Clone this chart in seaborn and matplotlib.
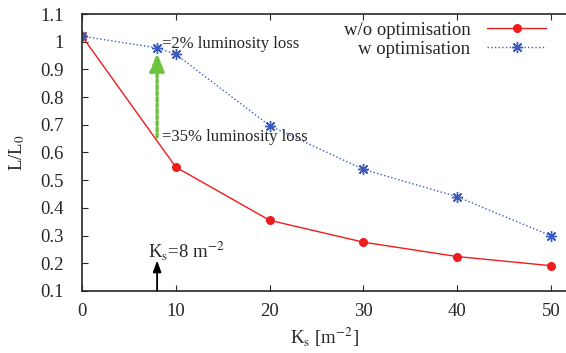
import pandas as pd
import matplotlib
matplotlib.use("Agg")
import matplotlib.pyplot as plt
import seaborn as sns

# data
ks_wo = [0, 10, 20, 30, 40, 50]
lumi_wo = [1.02, 0.547, 0.355, 0.276, 0.224, 0.191]
ks_w = [0, 8, 10, 20, 30, 40, 50]
lumi_w = [1.02, 0.978, 0.955, 0.697, 0.539, 0.440, 0.299]
labels = ["w/o optimisation", "w optimisation"]
ks_mark = 8

sns.set_style("ticks")
plt.rcParams["font.family"] = ["Liberation Serif", "DejaVu Serif"]
plt.rcParams["mathtext.fontset"] = "stix"
plt.rcParams["font.size"] = 13.5

df_wo = pd.DataFrame({"ks": ks_wo, "lumi": lumi_wo})
df_w = pd.DataFrame({"ks": ks_w, "lumi": lumi_w})

fig = plt.figure(figsize=(5.66, 3.53), dpi=100)
ax = fig.add_axes([0.145, 0.176, 0.855, 0.784])

sns.lineplot(data=df_wo, x="ks", y="lumi", ax=ax, color="#ee1c1c", lw=1.0,
             marker="o", markersize=6.5, markeredgewidth=0, label=labels[0])
sns.lineplot(data=df_w, x="ks", y="lumi", ax=ax, color="#3a5cc0", lw=1.0,
             linestyle=":", marker=(8, 2, 0), markersize=8, markeredgewidth=1.0,
             markeredgecolor="#3a5cc0", label=labels[1])

# arrows and notes
ax.annotate("", xy=(ks_mark, 0.96), xytext=(ks_mark, 0.656),
            arrowprops=dict(arrowstyle="-|>,head_length=0.8,head_width=0.32",
                            color="#6cc43c", lw=2.4, linestyle=(0, (1.0, 0.8)),
                            shrinkA=0, shrinkB=0))
ax.annotate("", xy=(ks_mark, 0.21), xytext=(ks_mark, 0.1),
            arrowprops=dict(arrowstyle="-|>,head_length=0.5,head_width=0.18",
                            color="black", lw=1.3, shrinkA=0, shrinkB=0))
ax.text(8.5, 0.993, "=2% luminosity loss", fontsize=12, va="center", ha="left")
ax.text(8.5, 0.655, "=35% luminosity loss", fontsize=12, va="center", ha="left")
ax.text(7.0, 0.245, r"K$_\mathrm{s}$=8 m$^{-2}$", fontsize=13.5, va="center", ha="left")

ax.set_xlim(0, 51.6)
ax.set_ylim(0.1, 1.1)
ax.set_xticks([0, 10, 20, 30, 40, 50])
ax.set_yticks([0.1, 0.2, 0.3, 0.4, 0.5, 0.6, 0.7, 0.8, 0.9, 1.0, 1.1])
ax.set_yticklabels(["0.1", "0.2", "0.3", "0.4", "0.5", "0.6", "0.7", "0.8", "0.9", "1", "1.1"])
ax.tick_params(direction="in", top=True, length=4, width=0.8, labelsize=13.5)
ax.tick_params(axis="y", pad=13)
ax.tick_params(axis="x", pad=9)
ax.spines["right"].set_visible(False)
for s in ["left", "top", "bottom"]:
    ax.spines[s].set_linewidth(1.2)
ax.set_xlabel(r"K$_\mathrm{s}$ [m$^{-2}$]", fontsize=13.5, labelpad=4)
ax.set_ylabel(r"L/L$_0$", fontsize=13.5, labelpad=10)

ax.legend(loc="upper right", bbox_to_anchor=(0.985, 1.02), frameon=False, markerfirst=False,
          handlelength=3.1, handletextpad=0.9, labelspacing=0.1, fontsize=13.5, borderaxespad=0.3)

fig.savefig("out.png", dpi=100)
